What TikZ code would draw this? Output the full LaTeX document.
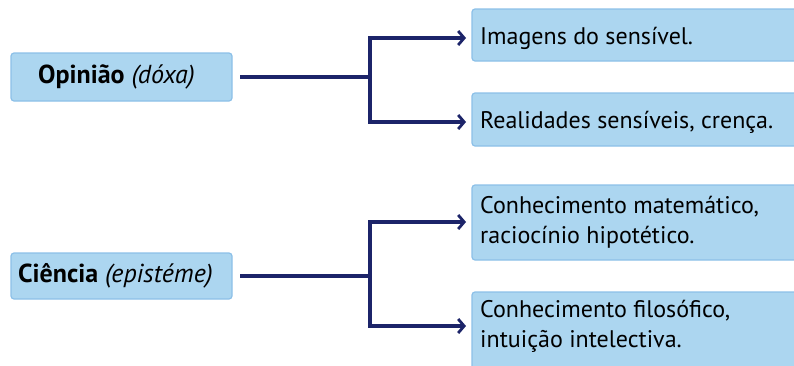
\documentclass[tikz,border=0pt]{standalone}
\usepackage{fontspec}
\setmainfont{PT Sans}
\usetikzlibrary{arrows.meta}
\definecolor{boxblue}{RGB}{172,214,240}
\definecolor{boxedge}{RGB}{140,192,232}
\definecolor{navy}{RGB}{28,36,105}
\tikzset{
  box/.style={fill=boxblue, draw=boxedge, line width=1.2pt, rounded corners=3pt},
  lbl/.style={anchor=west, inner sep=0pt, font=\fontsize{24}{30}\selectfont, align=left},
  llbl/.style={lbl, font=\fontsize{26}{30}\selectfont},
  conn/.style={draw=navy, line width=3.2pt},
  arr/.style={conn, -{Straight Barb[length=6pt,width=14pt,line width=2.8pt]}}
}
\begin{document}
\begin{tikzpicture}[x=1pt,y=-1pt]
\useasboundingbox (0,0) rectangle (794,365);
% left boxes
\draw[box] (11,53) rectangle (232,101);
\node[llbl] (op) at (38,77) {\textbf{Opinião} \textit{(dóxa)}};
\draw[box] (11,253) rectangle (232,299);
\node[llbl] (ci) at (18,276) {\textbf{Ciência} \textit{(epistéme)}};
% right boxes
\draw[box] (472,9) rectangle (800,61);
\draw[box] (472,93) rectangle (800,146);
\draw[box] (472,185) rectangle (800,260);
\draw[box] (472,292) rectangle (800,372);
\node[lbl] (r1) at (480,38) {Imagens do sensível.};
\node[lbl] (r2) at (480,122) {Realidades sensíveis, crença.};
\node[lbl] (r3) at (480,222) {Conhecimento matemático,\\raciocínio hipotético.};
\node[lbl] (r4) at (480,326) {Conhecimento filosófico,\\intuição intelectiva.};
% connectors
\coordinate (jo) at (370,77);
\coordinate (jc) at (370,276);
\draw[conn] (240,77) -- (jo);
\draw[arr] (jo) |- ([xshift=-14pt]r1.west);
\draw[arr] (jo) |- ([xshift=-14pt]r2.west);
\draw[conn] (240,276) -- (jc);
\draw[arr] (jc) |- ([xshift=-14pt]r3.west);
\draw[arr] (jc) |- ([xshift=-14pt]r4.west);
\end{tikzpicture}
\end{document}
